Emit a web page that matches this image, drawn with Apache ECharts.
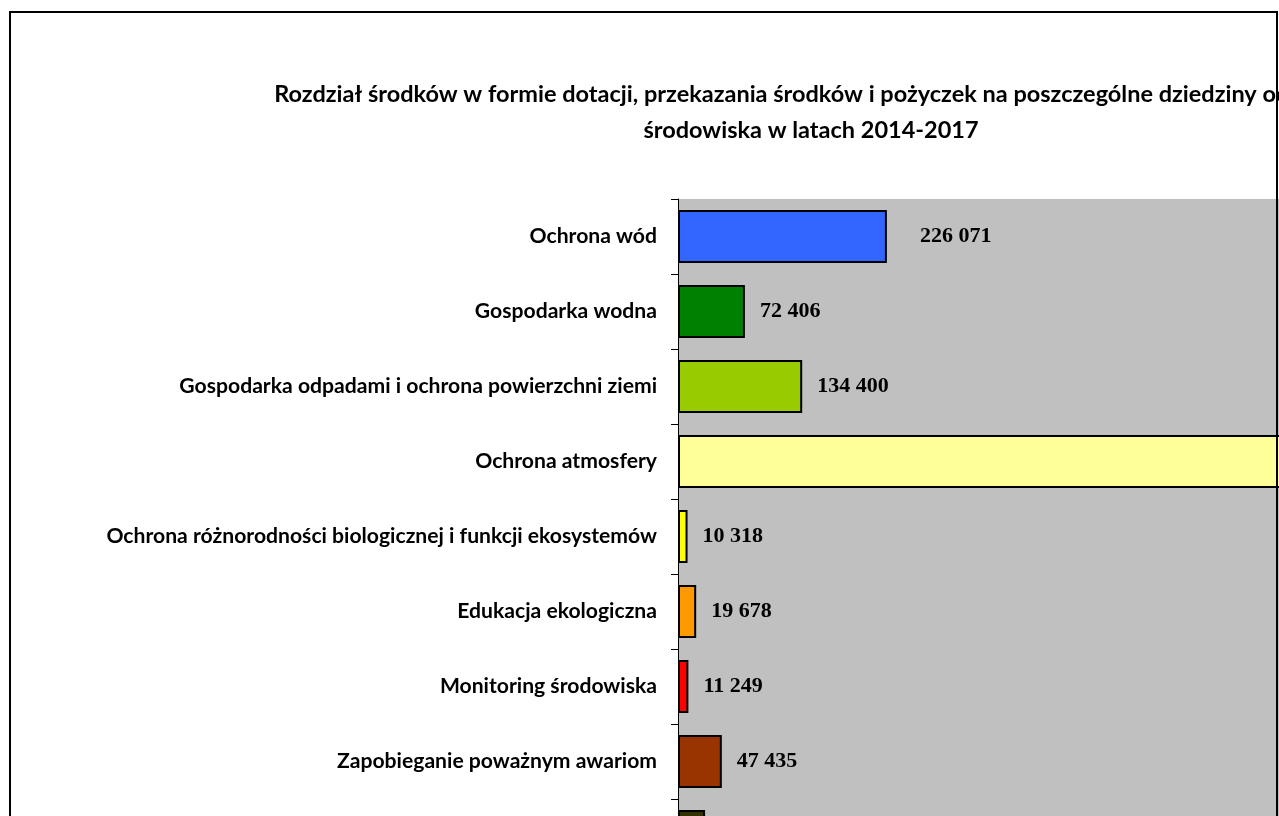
<!DOCTYPE html>
<html>
<head>
<meta charset="utf-8">
<script src="https://cdn.jsdelivr.net/npm/echarts@6/dist/echarts.min.js"></script>
<style>
html,body{margin:0;padding:0;background:#fff;overflow:hidden;width:1279px;height:816px;}
#chart{width:1700px;height:960px;}
</style>
</head>
<body>
<div id="chart"></div>
<script>
const titleText = 'Rozdział środków w formie dotacji, przekazania środków i pożyczek na poszczególne dziedziny ochrony\nśrodowiska w latach 2014-2017';
const categories = [
  'Ochrona wód',
  'Gospodarka wodna',
  'Gospodarka odpadami i ochrona powierzchni ziemi',
  'Ochrona atmosfery',
  'Ochrona różnorodności biologicznej i funkcji ekosystemów',
  'Edukacja ekologiczna',
  'Monitoring środowiska',
  'Zapobieganie poważnym awariom',
  'Pozostałe'
];
const values = [226071, 72406, 134400, 871250, 10318, 19678, 11249, 47435, 29300];
const colors = ['#3366FF', '#008000', '#99CC00', '#FFFF99', '#FFFF00', '#FF9900', '#FF0000', '#993300', '#333300'];
const xTicks = [0, 200000, 400000, 600000, 800000, 1000000];

function fmt(v){ return String(v).replace(/\B(?=(\d{3})+(?!\d))/g, ' '); }

const chart = echarts.init(document.getElementById('chart'));
chart.setOption({
  backgroundColor: '#ffffff',
  animation: false,
  title: {
    text: titleText,
    left: 806,
    top: 71,
    textAlign: 'center',
    textStyle: { fontFamily: 'Lato', fontWeight: 'bold', fontSize: 23.5, color: '#000', lineHeight: 36 }
  },
  grid: {
    left: 678, top: 199, width: 924, height: 675,
    show: true, backgroundColor: '#C0C0C0', borderWidth: 0
  },
  xAxis: {
    type: 'value',
    min: xTicks[0], max: xTicks[xTicks.length - 1], interval: 200000,
    axisLine: { show: false },
    axisTick: { show: false },
    axisLabel: { show: false },
    splitLine: { show: false }
  },
  yAxis: {
    type: 'category',
    data: categories,
    inverse: true,
    axisLine: { show: true, lineStyle: { color: '#000', width: 1 } },
    axisTick: { show: true, length: 7, lineStyle: { color: '#000' } },
    axisLabel: { margin: 21, fontFamily: 'Lato', fontWeight: 'bold', fontSize: 21.15, color: '#000' }
  },
  series: [{
    type: 'bar',
    barWidth: 53,
    data: values.map((v, i) => ({
      value: v,
      itemStyle: { color: colors[i] },
      label: i === 0 ? { distance: 33 } : undefined
    })),
    itemStyle: { borderColor: '#000', borderWidth: 2 },
    label: {
      show: true,
      position: 'right',
      distance: 15,
      formatter: p => fmt(p.value),
      fontFamily: 'Liberation Serif', fontWeight: 'bold', fontSize: 22, color: '#000'
    }
  }],
  graphic: [{
    type: 'rect',
    z: 100,
    shape: { x: 10, y: 12, width: 1267, height: 920 },
    style: { fill: 'none', stroke: '#000', lineWidth: 2 }
  }]
});
</script>
</body>
</html>
